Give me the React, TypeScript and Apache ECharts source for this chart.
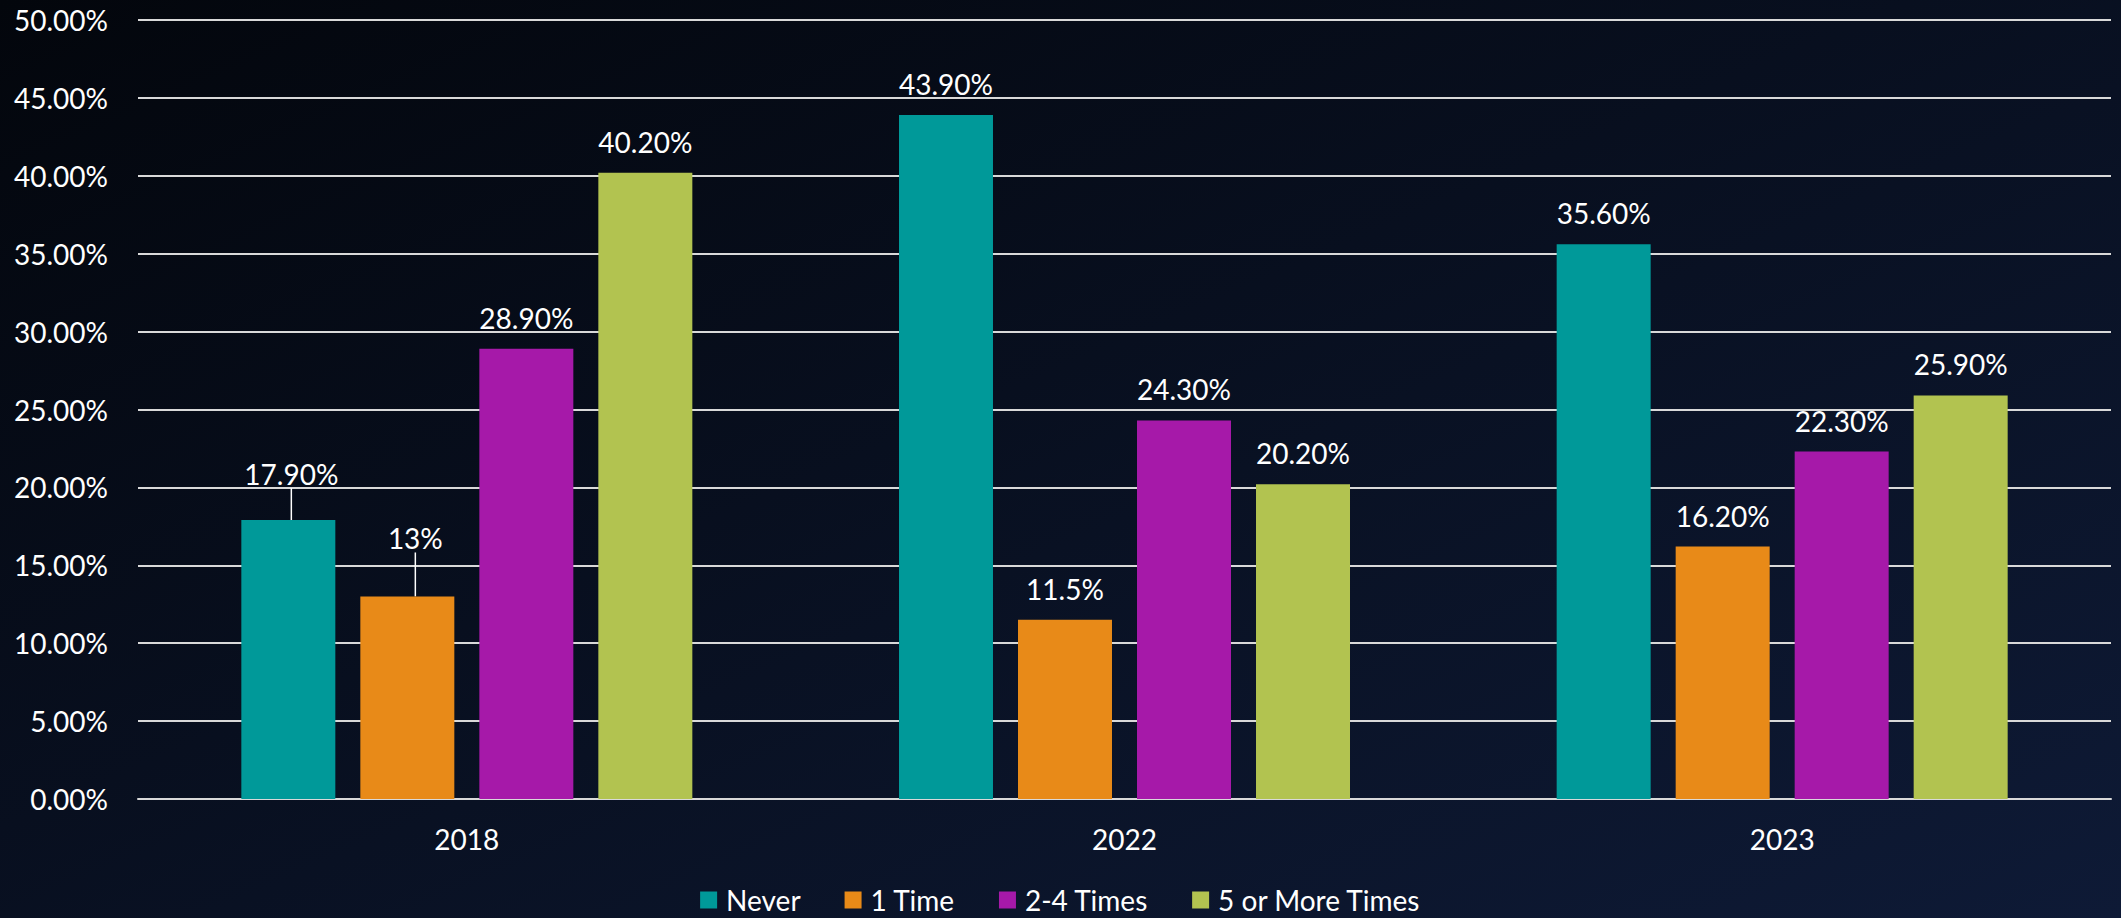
import React, { useEffect, useRef } from "react";
import * as echarts from "echarts";

const years = ["2018", "2022", "2023"];
const seriesNames = ["Never", "1 Time", "2-4 Times", "5 or More Times"];
const neverValues = [17.9, 43.9, 35.6];
const oneTimeValues = [13.0, 11.5, 16.2];
const twoToFourValues = [28.9, 24.3, 22.3];
const fiveOrMoreValues = [40.2, 20.2, 25.9];
const neverLabels = ["17.90%", "43.90%", "35.60%"];
const oneTimeLabels = ["13%", "11.5%", "16.20%"];
const twoToFourLabels = ["28.90%", "24.30%", "22.30%"];
const fiveOrMoreLabels = ["40.20%", "20.20%", "25.90%"];
const yTicks = { min: 0, max: 50, interval: 5 };

const colors = ["#009999", "#e88a18", "#a619a9", "#b2c350"];
const FONT = "Lato, 'Open Sans', sans-serif";

// label nudges (series index - data index) → [dx, dy]
const nudges: Record<string, [number, number]> = {
  "0-0": [3, -15],
  "1-0": [8, -27],
};

export default function App() {
  const ref = useRef<HTMLDivElement>(null);
  useEffect(() => {
    if (!ref.current) return;
    const chart = echarts.init(ref.current, undefined, { renderer: "svg" });
    const values = [neverValues, oneTimeValues, twoToFourValues, fiveOrMoreValues];
    const labels = [neverLabels, oneTimeLabels, twoToFourLabels, fiveOrMoreLabels];
    chart.setOption({
      animation: false,
      backgroundColor: {
        type: "linear",
        x: 0,
        y: 0,
        x2: 1,
        y2: 1,
        colorStops: [
          { offset: 0, color: "#03060c" },
          { offset: 1, color: "#0e1a36" },
        ],
      },
      textStyle: { fontFamily: FONT },
      grid: { left: 138, right: 10, top: 20, bottom: 119, containLabel: false },
      legend: {
        data: seriesNames,
        left: "center",
        top: 885,
        padding: 0,
        icon: "rect",
        itemWidth: 17,
        itemHeight: 17,
        itemGap: 44,
        textStyle: {
          color: "#ffffff",
          fontSize: 28,
          lineHeight: 30,
          fontFamily: FONT,
          padding: [0, 0, 0, 4],
        },
      },
      xAxis: {
        type: "category",
        data: years,
        axisTick: { show: false },
        axisLine: { show: true, lineStyle: { color: "#d9d9d9", width: 2 } },
        axisLabel: { color: "#ffffff", fontSize: 28, margin: 26, fontFamily: FONT },
      },
      yAxis: {
        type: "value",
        min: yTicks.min,
        max: yTicks.max,
        interval: yTicks.interval,
        axisLine: { show: false },
        axisTick: { show: false },
        splitLine: { lineStyle: { color: "#d9d9d9", width: 2 } },
        axisLabel: {
          color: "#ffffff",
          fontSize: 28,
          margin: 30,
          fontFamily: FONT,
          formatter: (v: number) => v.toFixed(2) + "%",
        },
      },
      series: seriesNames.map((name, si) => ({
        name,
        type: "bar",
        data: values[si].map((v, di) => ({
          value: v,
          labelLine: { show: !!nudges[`${si}-${di}`] },
        })),
        barWidth: 94,
        barGap: "26.6%",
        itemStyle: { color: colors[si] },
        label: {
          show: true,
          position: "top",
          distance: 17,
          color: "#ffffff",
          fontSize: 28,
          fontFamily: FONT,
          formatter: (p: any) => labels[si][p.dataIndex],
        },
        labelLine: { show: false, lineStyle: { color: "#ffffff", width: 1.5 } },
        labelLayout: (p: any) => {
          const n = nudges[`${si}-${p.dataIndex}`];
          return n ? { dx: n[0], dy: n[1] } : {};
        },
      })),
    });
    return () => chart.dispose();
  }, []);
  return (
    <div
      ref={ref}
      style={{ position: "fixed", left: 0, top: 0, width: 2121, height: 918 }}
    />
  );
}
